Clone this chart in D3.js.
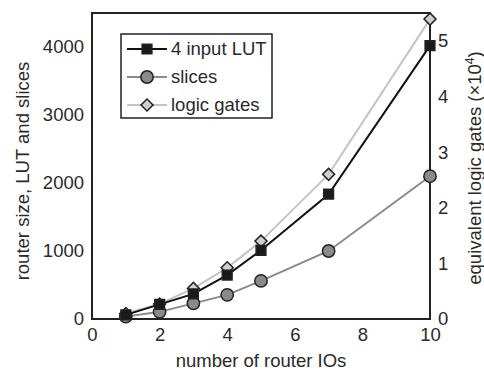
<!DOCTYPE html>
<html>
<head>
<meta charset="utf-8">
<script src="https://cdn.jsdelivr.net/npm/d3@7"></script>
<style>
  body { margin: 0; background: #fff; }
  text { font-family: "Liberation Sans", Arial, sans-serif; fill: #2a2a2a; }
</style>
</head>
<body>
<div id="chart"></div>
<script>
// data
const routerIOs = [1, 2, 3, 4, 5, 7, 10];
const lutValues = [60, 215, 370, 645, 1010, 1835, 4020];
const sliceValues = [35, 105, 230, 355, 560, 1000, 2100];
const gateValues = [0.1, 0.27, 0.55, 0.92, 1.4, 2.6, 5.39]; // x10^4
const xTicks = [0, 2, 4, 6, 8, 10];
const leftTicks = [0, 1000, 2000, 3000, 4000];
const rightTicks = [0, 1, 2, 3, 4, 5];

const width = 484, height = 373;
const m = { left: 92, right: 54, top: 13, bottom: 54 };

const svg = d3.select("#chart").append("svg")
  .attr("width", width)
  .attr("height", height);

const x = d3.scaleLinear().domain([0, 10]).range([m.left, width - m.right]);
const yL = d3.scaleLinear().domain([0, 4500]).range([height - m.bottom, m.top]);
const yR = d3.scaleLinear().domain([0, 5.5]).range([height - m.bottom, m.top]);

// frame
svg.append("rect")
  .attr("x", x(0)).attr("y", m.top)
  .attr("width", x(10) - x(0))
  .attr("height", height - m.bottom - m.top)
  .attr("fill", "none")
  .attr("stroke", "#222")
  .attr("stroke-width", 2);

// axes (labels only, no ticks)
const fs = "18.5px";
svg.append("g")
  .attr("transform", `translate(0,${height - m.bottom})`)
  .call(d3.axisBottom(x).tickValues(xTicks).tickSize(0).tickPadding(9))
  .call(g => g.select(".domain").remove())
  .selectAll("text").style("font-size", fs).attr("fill", "#2a2a2a");

svg.append("g")
  .attr("transform", `translate(${m.left},0)`)
  .call(d3.axisLeft(yL).tickValues(leftTicks).tickSize(0).tickPadding(8).tickFormat(d3.format("d")))
  .call(g => g.select(".domain").remove())
  .selectAll("text").style("font-size", fs).attr("fill", "#2a2a2a");

svg.append("g")
  .attr("transform", `translate(${width - m.right},0)`)
  .call(d3.axisRight(yR).tickValues(rightTicks).tickSize(0).tickPadding(8).tickFormat(d3.format("d")))
  .call(g => g.select(".domain").remove())
  .selectAll("text").style("font-size", fs).attr("fill", "#2a2a2a");

// axis titles
svg.append("text")
  .attr("x", 261).attr("y", 367)
  .attr("text-anchor", "middle")
  .style("font-size", "18.5px")
  .text("number of router IOs");

svg.append("text")
  .attr("transform", "translate(29,171) rotate(-90)")
  .attr("text-anchor", "middle")
  .style("font-size", "18.5px")
  .text("router size, LUT and slices");

const rt = svg.append("text")
  .attr("transform", "translate(481,168) rotate(-90)")
  .attr("text-anchor", "middle")
  .style("font-size", "18.5px");
rt.append("tspan").text("equivalent logic gates (×10");
rt.append("tspan").attr("dy", -7).style("font-size", "12px").text("4");
rt.append("tspan").attr("dy", 7).text(")");

// series
const series = [
  { name: "logic gates", vals: gateValues, y: yR, line: "#c4c4c4", fill: "#cfcfcf", shape: d3.symbolSquare, size: 72, rot: 45 },
  { name: "slices", vals: sliceValues, y: yL, line: "#8a8a8a", fill: "#8a8a8a", shape: d3.symbolCircle, size: 120, rot: 0 },
  { name: "4 input LUT", vals: lutValues, y: yL, line: "#111", fill: "#1a1a1a", shape: d3.symbolSquare, size: 95, rot: 0 }
];

series.forEach(s => {
  const pts = routerIOs.map((v, i) => [x(v), s.y(s.vals[i])]);
  svg.append("path")
    .attr("d", d3.line()(pts))
    .attr("fill", "none")
    .attr("stroke", s.line)
    .attr("stroke-width", 2);
});

series.forEach(s => {
  svg.append("g").selectAll("path")
    .data(routerIOs)
    .enter()
    .append("path")
    .attr("transform", (v, i) => `translate(${x(v)},${s.y(s.vals[i])}) rotate(${s.rot})`)
    .attr("d", d3.symbol().type(s.shape).size(s.size))
    .attr("fill", s.fill)
    .attr("stroke", "#222")
    .attr("stroke-width", 1.5);
});

// legend
const legend = svg.append("g").attr("transform", "translate(121,34)");
legend.append("rect")
  .attr("width", 151).attr("height", 84)
  .attr("fill", "#fff")
  .attr("stroke", "#222")
  .attr("stroke-width", 1.5);

const legendOrder = [series[2], series[1], series[0]];
legendOrder.forEach((s, i) => {
  const cy = 15 + i * 28;
  legend.append("line")
    .attr("x1", 6).attr("x2", 46)
    .attr("y1", cy).attr("y2", cy)
    .attr("stroke", s.line).attr("stroke-width", 2);
  legend.append("path")
    .attr("transform", `translate(26,${cy}) rotate(${s.rot})`)
    .attr("d", d3.symbol().type(s.shape).size(s.size))
    .attr("fill", s.fill)
    .attr("stroke", "#222")
    .attr("stroke-width", 1.5);
  legend.append("text")
    .attr("x", 50).attr("y", cy)
    .attr("dy", "0.35em")
    .style("font-size", "18.5px")
    .text(s.name);
});
</script>
</body>
</html>
